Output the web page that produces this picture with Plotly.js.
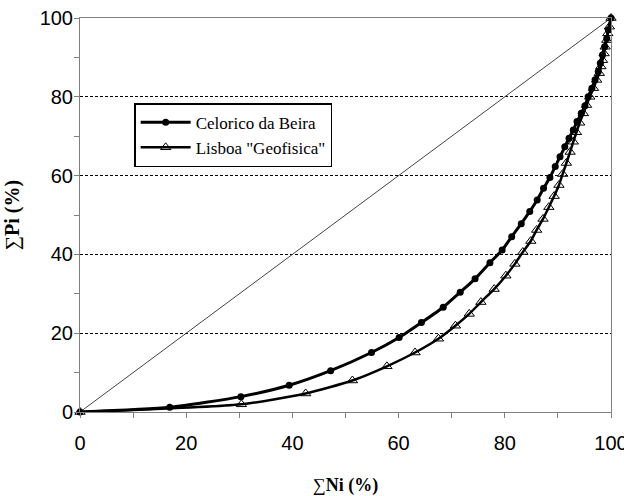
<!DOCTYPE html>
<html>
<head>
<meta charset="utf-8">
<script src="https://cdn.plot.ly/plotly-3.0.1.min.js"></script>
<style>html,body{margin:0;padding:0;background:#fff;}#chart{width:624px;height:496px;}</style>
</head>
<body>
<div id="chart"></div>
<script>
// Celorico da Beira: cumulative ∑Ni (%) vs ∑Pi (%)
const celoricoNi = [0, 16.9, 30.3, 39.4, 47.2, 54.9, 60.1, 64.3, 68.4, 71.6, 74.4, 77.2, 79.5, 81.3, 83.1, 84.7, 86.1, 87.3, 88.5, 89.5, 90.4, 91.3, 92.1, 92.9, 93.6, 94.4, 95.1, 95.7, 96.4, 97.0, 97.6, 98.0, 98.4, 98.8, 99.2, 99.5, 100];
const celoricoPi = [0, 1.2, 3.9, 6.8, 10.5, 15.1, 18.9, 22.7, 26.6, 30.4, 33.8, 37.9, 41.1, 44.5, 47.8, 50.9, 53.8, 56.8, 59.5, 62.3, 64.8, 67.3, 69.5, 71.6, 73.7, 75.8, 77.7, 80.0, 82.2, 84.3, 86.4, 88.5, 90.6, 92.7, 94.8, 97.0, 100];

// Lisboa "Geofisica"
const lisboaNi = [0, 30.4, 42.5, 51.3, 57.8, 63.1, 67.5, 70.7, 73.3, 75.5, 78.0, 80.2, 81.9, 83.4, 84.9, 86.0, 87.2, 88.3, 89.3, 90.2, 90.9, 91.6, 92.3, 92.9, 93.5, 94.1, 94.8, 95.4, 96.0, 96.7, 97.3, 97.8, 98.1, 98.4, 98.7, 98.9, 99.2, 99.4, 99.7, 100];
const lisboaPi = [0, 1.95, 4.7, 8.0, 11.6, 15.1, 18.6, 21.9, 24.9, 27.9, 31.2, 34.6, 37.6, 40.6, 43.4, 46.2, 49.0, 52.0, 54.8, 57.6, 60.4, 63.2, 66.0, 68.6, 71.0, 73.4, 75.8, 77.9, 80.0, 82.2, 84.3, 86.0, 87.7, 89.3, 91.0, 92.7, 94.4, 96.1, 97.8, 100];

// Line of perfect equality
const equalityX = [0, 100];
const equalityY = [0, 100];

const seriesNames = ['Celorico da Beira', 'Lisboa "Geofisica"'];
const xTitle = '∑<b>Ni (%)</b>';
const yTitle = '∑<b>Pi (%)</b>';

const traces = [
  {x: equalityX, y: equalityY, mode: 'lines', showlegend: false, hoverinfo: 'skip',
   line: {color: '#444', width: 1}, cliponaxis: false},
  {x: celoricoNi, y: celoricoPi, name: seriesNames[0], mode: 'lines+markers',
   line: {color: '#000', width: 3, shape: 'spline', smoothing: 0.6},
   marker: {symbol: 'circle', size: 7, color: '#000'}, cliponaxis: false},
  {x: lisboaNi, y: lisboaPi, name: seriesNames[1], mode: 'lines+markers',
   line: {color: '#000', width: 2.5, shape: 'spline', smoothing: 0.6},
   marker: {symbol: 'triangle-up-open', size: 9, color: '#000', line: {width: 1, color: '#000'}}, cliponaxis: false}
];

const axisCommon = {
  range: [0, 100], dtick: 20, tick0: 0,
  showline: true, linecolor: '#808080', linewidth: 1, mirror: true,
  ticks: 'outside', ticklen: 5, tickcolor: '#808080', tickwidth: 1,
  minor: {dtick: 10, ticks: 'outside', ticklen: 5, tickcolor: '#808080', tickwidth: 1, showgrid: false},
  zeroline: false,
  ticklabeloverflow: 'allow',
  tickfont: {family: 'Liberation Sans, Arial, sans-serif', size: 20, color: '#000'}
};

const layout = {
  width: 624, height: 496,
  margin: {l: 80, r: 13, t: 18, b: 84},
  paper_bgcolor: '#fff', plot_bgcolor: '#fff',
  showlegend: true,
  legend: {x: 0.102, y: 0.784, xanchor: 'left', yanchor: 'top',
    bgcolor: '#fff', bordercolor: '#000', borderwidth: 1.5,
    itemwidth: 50,
    font: {family: 'Liberation Serif, Times New Roman, serif', size: 17, color: '#000'},
    tracegroupgap: 4},
  xaxis: Object.assign({}, axisCommon, {
    showgrid: false,
    ticklabelstandoff: 8,
    title: {text: xTitle, standoff: 26, font: {family: 'Liberation Serif, Times New Roman, serif', size: 18, color: '#000'}}
  }),
  yaxis: Object.assign({}, axisCommon, {
    showgrid: true, gridcolor: '#000', griddash: '3px,2px', gridwidth: 1,
    ticklabelstandoff: -3,
    title: {text: yTitle, standoff: 14, font: {family: 'Liberation Serif, Times New Roman, serif', size: 20, color: '#000'}}
  })
};

Plotly.newPlot('chart', traces, layout, {displayModeBar: false, staticPlot: true});
</script>
</body>
</html>
